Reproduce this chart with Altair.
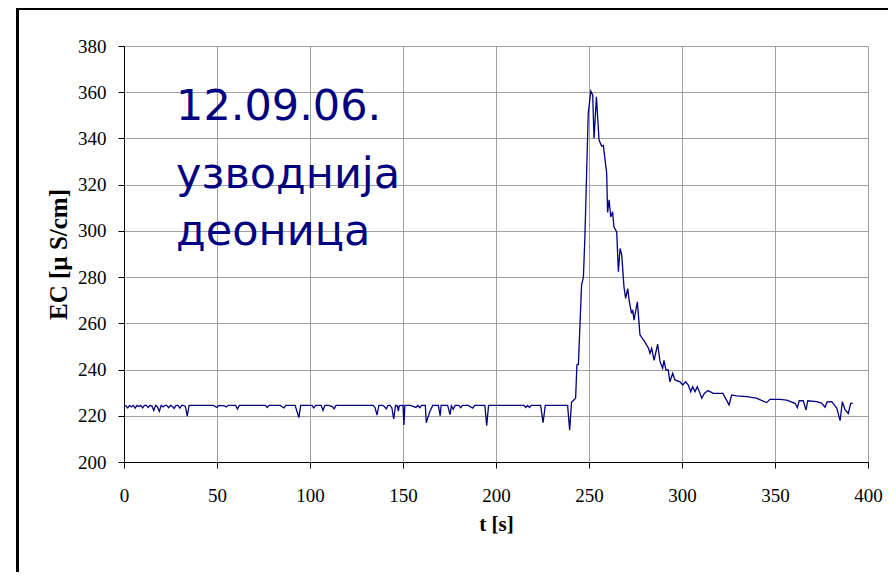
import altair as alt
import pandas as pd

# time [s]
t = [0,1,2,3,4,5,6,7,8,9,10,11,12,13,14,15,16,17,18,19,20,21,22,23,24,25,26,27,28,29,30,31,32,33,34,35,
     38,42,44,48,50,51,54,55,56,60,61,62,66,70,76,77,78,84,86,87,92,94,95,98,101,102,103,106,107,108,110,112,113,114,
     120,126,130,134,135,136,137,
     139,140,141,142,143,144,145,146,147,147.5,148,149,150,150.5,151,154,157,158,159,160,162,162.5,164.5,166,169,170,170.5,
     174,175.3,176,177,178,180,181,182,185,187.5,188.5,194,195,196,200,206,210,215,216,217,218,219,224,225.3,226.5,232,238.5,239.6,240.5,
     240.6,242.8,243.5,244.3,246,247,247.8,249.6,251,252,252.7,254,255.4,256.8,257.7,259.5,260,260.8,261.7,262.7,263.4,264.9,265.8,
     266.7,267.6,268.8,269.7,270.8,271.7,272.9,273.5,274.2,276,277.4,280,282,282.8,283.7,285,286.9,288.2,289.6,290.3,291.4,292.6,
     293.5,295,296.2,298.9,300.4,302,303.4,304.7,305.7,307,308.2,309.7,310.6,312,314,316.8,322,325.3,326.7,329.4,334.8,340,345.5,
     347.3,352.7,356.3,360.8,362,363,365.2,366.7,367.6,372.4,375,376.9,378,380.5,383.2,385,386.2,387.6,389.4,390.7,391.8]

# electrical conductivity [uS/cm]
ec = [224.5,224.3,223.4,224.5,223.8,224.5,223.3,224.5,224.0,224.5,223.4,224.5,224.5,223.6,224.5,224.2,222.3,224.5,223.8,221.9,
      224.5,223.8,224.5,224.5,223.5,224.5,224.0,223.2,224.5,224.5,223.3,224.5,224.5,224.0,219.8,224.5,
      224.5,224.5,224.5,224.5,223.6,224.5,224.3,223.8,224.5,224.5,222.9,224.5,224.5,224.5,224.5,223.6,224.5,224.5,223.4,224.5,
      224.5,219.2,224.5,224.5,224.5,223.4,224.5,224.5,222.3,224.5,224.5,224.0,223.0,224.5,
      224.5,224.5,224.5,224.5,223.5,220.3,224.5,
      224.5,224.0,223.0,224.5,224.5,223.5,218.6,224.5,224.2,222.0,224.3,224.5,224.5,216.0,224.5,224.5,223.6,224.5,223.5,224.5,
      224.5,217.0,222.0,224.5,224.5,220.0,224.5,
      224.5,220.5,224.3,222.8,224.5,224.5,223.5,224.5,224.5,223.3,224.5,224.5,215.7,224.5,224.5,224.5,224.5,224.5,223.6,224.5,
      223.6,224.5,224.5,217.0,224.5,224.5,224.5,213.8,224.5,
      225.8,227.6,242.0,242.2,276.6,280.0,297.5,351.0,360.5,358.8,340.0,358.0,339.3,336.7,337.0,325.0,308.0,313.4,306.0,308.3,
      301.8,299.6,282.3,
      292.4,289.6,275.8,270.8,275.0,269.3,264.3,265.8,261.4,269.3,255.0,252.0,249.2,247.0,249.2,244.0,251.0,243.4,240.5,244.0,
      239.8,239.8,
      234.7,238.4,235.5,234.7,233.3,234.7,233.3,230.4,232.6,230.4,232.6,229.7,227.6,229.7,230.9,229.7,229.7,224.7,229.0,228.6,
      228.3,227.6,225.7,
      227.1,227.1,226.8,225.4,223.5,226.5,226.5,222.5,226.5,226.1,225.5,223.7,226.0,226.1,223.3,217.9,226.1,222.8,221.0,225.4,225.4]

x_ticks = [0, 50, 100, 150, 200, 250, 300, 350, 400]
y_ticks = [200, 220, 240, 260, 280, 300, 320, 340, 360, 380]

note_lines = ["12.09.06.", "узводнија", "деоница"]
note_t = [28, 28, 28]
note_ec = [348.0, 318.4, 293.9]

df = pd.DataFrame({"t": t, "ec": ec})
notes = pd.DataFrame({"t": note_t, "ec": note_ec, "txt": note_lines})

NAVY = "#000080"
SERIF = "Liberation Serif, Times New Roman, serif"

xenc = alt.X("t:Q",
             scale=alt.Scale(domain=[0, 400], nice=False, zero=False),
             axis=alt.Axis(values=x_ticks, title="t [s]", labelPadding=18,
                           labelFont=SERIF, labelFontSize=19,
                           titleFont=SERIF, titleFontSize=21,
                           titleY=62, titleBaseline="middle"))
yenc = alt.Y("ec:Q",
             scale=alt.Scale(domain=[200, 380], nice=False, zero=False),
             axis=alt.Axis(values=y_ticks, title="EC  [µ S/cm]", labelPadding=12,
                           labelFont=SERIF, labelFontSize=19,
                           titleFont=SERIF, titleFontSize=25,
                           titleX=-66, titleY=208, titleAngle=-90,
                           titleAlign="center", titleBaseline="middle"))

line = alt.Chart(df).mark_line(color=NAVY, strokeWidth=1.3).encode(x=xenc, y=yenc)

text = alt.Chart(notes).mark_text(align="left", baseline="alphabetic", font="DejaVu Sans",
                                  fontSize=43, color=NAVY).encode(
    x=alt.X("t:Q"), y=alt.Y("ec:Q"), text="txt:N")

frame_left = alt.Chart(df).mark_rule(color="black", strokeWidth=1.2).encode(
    x=alt.value(-106.5), y=alt.value(-38), y2=alt.value(526))
frame_top = alt.Chart(df).mark_rule(color="black", strokeWidth=1.2).encode(
    x=alt.value(-107), x2=alt.value(764), y=alt.value(-37.4))

chart = alt.layer(line, text, frame_left, frame_top).properties(
    width=744, height=416,
    autosize=alt.AutoSizeParams(type="none"),
    padding={"left": 116, "top": 38, "right": 20, "bottom": 110},
    background="white",
).configure_view(
    stroke="#a0a0a0", strokeWidth=1
).configure_axis(
    labelFont=SERIF, labelFontSize=19, labelColor="black",
    titleFont=SERIF, titleFontWeight="bold", titleColor="black",
    domainColor="black", domainWidth=1, tickColor="black", tickSize=6, tickWidth=1,
    gridColor="#a0a0a0", gridWidth=1, gridOpacity=1, labelFlush=False, labelOverlap=False
)

chart.save("out.html", embed_options={"renderer": "svg", "actions": False})
